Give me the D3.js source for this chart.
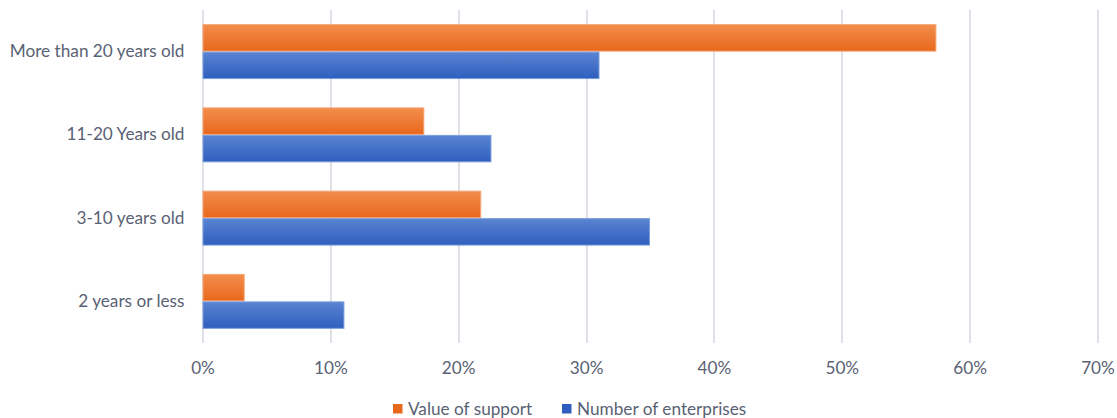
<!DOCTYPE html>
<html>
<head>
<meta charset="utf-8">
<script src="https://cdn.jsdelivr.net/npm/d3@7"></script>
<style>
  html, body { margin: 0; padding: 0; background: #ffffff; }
  svg { display: block; }
  text { font-family: Lato, "Open Sans", sans-serif; }
</style>
</head>
<body>
<svg id="chart" width="1117" height="418"></svg>
<script>
// Share of enterprises vs. share of support value, by enterprise age
const categories = ["More than 20 years old", "11-20 Years old", "3-10 years old", "2 years or less"];
const seriesNames = ["Value of support", "Number of enterprises"];
const valueOfSupport = [57.4, 17.35, 21.8, 3.3];
const numberOfEnterprises = [31.05, 22.6, 35.0, 11.1];
const xTicks = [0, 10, 20, 30, 40, 50, 60, 70];

const seriesColors = {
  "Value of support": { top: "#F38D4C", bottom: "#E8681C", edge: "#F5A474" },
  "Number of enterprises": { top: "#5A84D2", bottom: "#2F5FBE", edge: "#7D9EDC" }
};

const rows = categories.map((c, i) => ({
  category: c,
  values: [
    { series: seriesNames[0], value: valueOfSupport[i] },
    { series: seriesNames[1], value: numberOfEnterprises[i] }
  ]
}));

const FONT = 17.2;
const TEXT_COLOR = "#596274";

const svg = d3.select("#chart");
const margin = { left: 202.5, right: 19.5, top: 10, bottom: 75 };
const W = 1117, H = 418;
const innerW = W - margin.left - margin.right;
const innerH = H - margin.top - margin.bottom;

const x = d3.scaleLinear().domain([0, 70]).range([0, innerW]);
const y0 = d3.scaleBand().domain(categories).range([0, innerH]).paddingInner(0.34).paddingOuter(0.17);
const y1 = d3.scaleBand().domain(seriesNames).range([0, y0.bandwidth()]);

// vertical gradients for bar fills
const defs = svg.append("defs");
seriesNames.forEach((s, i) => {
  const g = defs.append("linearGradient").attr("id", "grad" + i)
    .attr("x1", 0).attr("y1", 0).attr("x2", 0).attr("y2", 1);
  g.append("stop").attr("offset", "0%").attr("stop-color", seriesColors[s].top);
  g.append("stop").attr("offset", "100%").attr("stop-color", seriesColors[s].bottom);
});

const g = svg.append("g").attr("transform", `translate(${margin.left},${margin.top})`);

// gridlines
g.append("g")
  .selectAll("line")
  .data(xTicks)
  .join("line")
  .attr("x1", d => Math.round(x(d)) + 0.5)
  .attr("x2", d => Math.round(x(d)) + 0.5)
  .attr("y1", 0)
  .attr("y2", innerH)
  .attr("stroke", "#DEE2E8")
  .attr("stroke-width", 2);

// bars
const groups = g.append("g")
  .selectAll("g")
  .data(rows)
  .join("g")
  .attr("transform", d => `translate(0,${y0(d.category)})`);

groups.selectAll("rect")
  .data(d => d.values)
  .join("rect")
  .attr("x", x(0) + 0.5)
  .attr("y", d => y1(d.series) + 0.5)
  .attr("width", d => x(d.value) - x(0) - 1)
  .attr("height", y1.bandwidth() - 1)
  .attr("fill", d => "url(#grad" + seriesNames.indexOf(d.series) + ")")
  .attr("stroke", d => seriesColors[d.series].edge)
  .attr("stroke-width", 1);

// category labels
const yAxis = d3.axisLeft(y0).tickSize(0).tickPadding(18);
g.append("g")
  .call(yAxis)
  .call(a => a.select(".domain").remove())
  .selectAll("text")
  .attr("font-size", FONT)
  .attr("fill", TEXT_COLOR)
  .style("font-family", "Lato, 'Open Sans', sans-serif");

// x tick labels
const xAxis = d3.axisBottom(x).tickValues(xTicks).tickFormat(d => d + "%").tickSize(0).tickPadding(19);
g.append("g")
  .attr("transform", `translate(0,${innerH})`)
  .call(xAxis)
  .call(a => a.select(".domain").remove())
  .selectAll("text")
  .attr("font-size", FONT)
  .attr("fill", TEXT_COLOR)
  .style("font-family", "Lato, 'Open Sans', sans-serif");

// legend
const legend = svg.append("g").attr("transform", "translate(393,409)");
const legendItems = [
  { name: seriesNames[0], dx: 0 },
  { name: seriesNames[1], dx: 169 }
];
const li = legend.selectAll("g").data(legendItems).join("g")
  .attr("transform", d => `translate(${d.dx},0)`);
li.append("rect")
  .attr("x", 0).attr("y", -5).attr("width", 9.5).attr("height", 9.5)
  .attr("fill", d => seriesColors[d.name].bottom);
li.append("text")
  .attr("x", 15).attr("y", 0).attr("dy", "0.35em")
  .attr("font-size", FONT)
  .attr("fill", TEXT_COLOR)
  .text(d => d.name);
</script>
</body>
</html>
